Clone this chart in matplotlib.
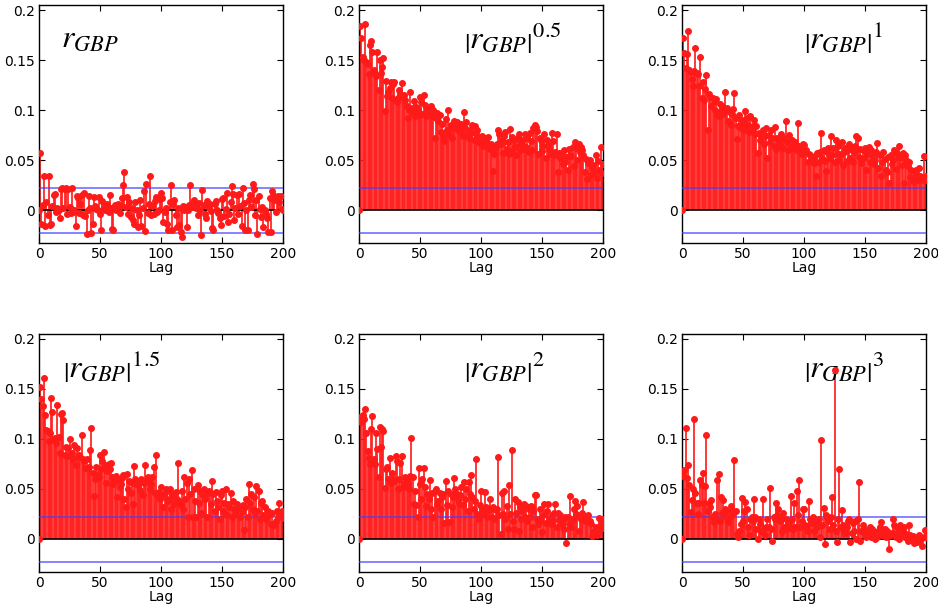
import numpy as np
import matplotlib
matplotlib.use("Agg")
import matplotlib.pyplot as plt

lags = list(range(201))

# ACF values (x1000)
acf_r = [
    0, 57, -14, 5, 34, -16, 8, -5, 34, -15,
    -14, 4, 15, 16, -2, 2, 0, -8, 21, 22,
    2, 21, 22, -4, 21, 3, -3, 22, -2, 0,
    -16, 14, 12, -3, 6, 15, -5, 17, -6, -24,
    0, 14, 2, -23, -14, 13, 4, 1, 0, 13,
    -4, -20, 9, 3, 0, 3, 6, -2, 15, 2,
    -19, -20, 5, 0, 5, 6, -3, 4, 12, 25,
    38, 3, 13, -4, 8, -7, 2, -10, -14, 8,
    0, -17, -5, 10, -16, 2, 19, -21, 26, -3,
    6, 34, -5, 4, -4, 9, 13, -2, 0, 11,
    17, 12, -12, -2, 2, -14, -20, 8, 25, -20,
    6, 10, -5, -17, 2, -15, -22, -27, 4, 0,
    3, -17, 0, 5, 25, 3, 8, 10, 6, 2,
    -5, 7, 0, -25, 20, 5, -4, -8, 9, 2,
    6, -1, -18, -20, 6, 9, 0, -3, -8, -15,
    11, 12, -6, 1, 17, -12, -4, 8, 24, 16,
    -10, 2, 15, -4, 16, 4, -16, 22, 7, -20,
    0, -20, 10, 15, 3, 26, 21, -5, 10, -24,
    14, 1, -7, 3, -17, 0, -4, -8, -22, 12,
    -22, 19, 15, 10, -2, 12, 14, 8, 14, 1,
    0]

acf_p05 = [
    0, 184, 172, 153, 150, 186, 148, 146, 136, 165,
    169, 158, 140, 136, 134, 158, 120, 150, 137, 143,
    152, 99, 129, 114, 118, 122, 128, 112, 126, 128,
    110, 108, 112, 120, 116, 127, 114, 115, 110, 104,
    92, 100, 118, 102, 97, 109, 94, 103, 100, 95,
    113, 108, 96, 115, 105, 94, 101, 99, 96, 104,
    94, 100, 72, 92, 97, 89, 95, 78, 86, 74,
    69, 91, 80, 100, 76, 85, 72, 82, 89, 84,
    88, 80, 84, 79, 86, 74, 98, 82, 88, 76,
    72, 80, 77, 85, 70, 84, 76, 80, 68, 72,
    66, 74, 64, 72, 69, 64, 73, 61, 66, 62,
    39, 56, 63, 66, 80, 76, 66, 70, 57, 74,
    78, 61, 68, 56, 81, 73, 60, 70, 64, 55,
    72, 76, 60, 66, 70, 61, 76, 63, 72, 58,
    77, 69, 60, 82, 85, 83, 79, 56, 72, 70,
    59, 64, 76, 52, 70, 65, 61, 56, 77, 69,
    55, 58, 76, 38, 57, 52, 57, 46, 60, 48,
    53, 40, 61, 55, 54, 63, 44, 68, 62, 50,
    66, 58, 63, 60, 55, 38, 51, 31, 47, 50,
    35, 42, 45, 38, 55, 32, 49, 40, 63, 37,
    46]

acf_p1 = [
    0, 172, 157, 142, 156, 179, 140, 138, 131, 124,
    139, 162, 137, 136, 124, 153, 112, 128, 110, 121,
    135, 80, 116, 113, 104, 112, 108, 100, 111, 95,
    94, 106, 99, 104, 96, 118, 100, 102, 89, 98,
    85, 96, 101, 117, 92, 71, 84, 95, 82, 90,
    87, 80, 99, 92, 85, 78, 94, 80, 84, 90,
    76, 84, 57, 77, 70, 72, 80, 66, 74, 82,
    52, 75, 68, 80, 72, 64, 83, 61, 72, 70,
    66, 76, 73, 62, 71, 89, 68, 60, 75, 64,
    70, 62, 66, 68, 60, 87, 64, 60, 56, 66,
    65, 58, 60, 48, 56, 55, 50, 52, 47, 54,
    34, 57, 48, 58, 77, 52, 60, 49, 39, 58,
    62, 52, 74, 55, 62, 48, 70, 57, 64, 50,
    56, 68, 45, 58, 62, 49, 60, 66, 52, 62,
    48, 58, 64, 74, 72, 53, 61, 47, 60, 52,
    62, 40, 56, 63, 48, 60, 55, 46, 50, 58,
    67, 42, 55, 34, 48, 58, 51, 40, 38, 53,
    27, 55, 46, 50, 60, 41, 57, 54, 64, 52,
    45, 57, 27, 55, 50, 44, 48, 33, 40, 29,
    31, 37, 40, 30, 42, 34, 30, 33, 54, 30,
    34]

acf_p15 = [
    0, 152, 140, 133, 161, 124, 109, 108, 98, 106,
    141, 127, 99, 101, 96, 134, 102, 86, 125, 126,
    119, 84, 92, 83, 91, 100, 83, 86, 80, 94,
    74, 91, 83, 84, 82, 104, 80, 78, 71, 80,
    70, 72, 89, 111, 66, 43, 60, 72, 65, 62,
    84, 70, 78, 87, 74, 56, 68, 75, 70, 76,
    62, 55, 58, 63, 42, 60, 52, 55, 61, 64,
    40, 32, 65, 50, 58, 46, 56, 35, 73, 60,
    55, 54, 58, 49, 60, 44, 56, 74, 58, 62,
    60, 50, 55, 62, 72, 46, 84, 44, 47, 40,
    52, 44, 32, 46, 50, 40, 38, 50, 30, 45,
    42, 35, 47, 40, 76, 38, 34, 48, 30, 62,
    40, 56, 22, 60, 45, 69, 22, 50, 38, 22,
    54, 36, 48, 26, 45, 50, 40, 45, 22, 48,
    47, 35, 58, 45, 28, 47, 38, 32, 20, 44,
    48, 28, 36, 50, 24, 35, 32, 46, 22, 38,
    30, 25, 35, 32, 30, 22, 28, 34, 9, 32,
    40, 22, 55, 36, 45, 30, 42, 26, 53, 28,
    48, 20, 36, 38, 24, 32, 20, 22, 28, 25,
    15, 26, 15, 14, 18, 28, 22, 36, 25, 28,
    21]

acf_p2 = [
    0, 122, 117, 124, 120, 130, 106, 88, 81, 75,
    110, 123, 80, 75, 106, 90, 62, 112, 92, 110,
    108, 51, 70, 72, 60, 81, 56, 66, 60, 58,
    83, 78, 50, 60, 76, 83, 52, 56, 62, 60,
    55, 50, 63, 101, 62, 35, 48, 34, 22, 71,
    55, 40, 60, 71, 52, 33, 45, 40, 59, 30,
    46, 22, 48, 50, 35, 38, 46, 30, 42, 45,
    16, 58, 34, 48, 17, 45, 32, 42, 61, 50,
    45, 40, 36, 44, 52, 34, 57, 40, 50, 28,
    57, 45, 64, 42, 30, 38, 80, 25, 20, 34,
    48, 30, 26, 47, 32, 22, 29, 40, 30, 22,
    32, 20, 29, 30, 82, 24, 5, 46, 25, 48,
    20, 33, 10, 54, 25, 89, 18, 10, 40, 26,
    37, 8, 32, 20, 28, 35, 22, 33, 18, 30,
    22, 33, 12, 28, 44, 44, 20, 15, 30, 18,
    7, 24, 35, 16, 28, 35, 20, 15, 24, 18,
    26, 35, 12, 26, 20, 24, 14, 18, 10, 22,
    -4, 22, 15, 43, 12, 20, 30, 38, 25, 33,
    8, 22, 20, 26, 37, 18, 22, 20, 24, 18,
    15, 3, 8, 5, 12, 4, 8, 21, 15, 20,
    11]

acf_p3 = [
    0, 63, 69, 111, 61, 74, 54, 27, 39, 50,
    120, 46, 36, 25, 36, 59, 54, 66, 36, 53,
    104, 28, 36, 32, 39, 22, 17, 25, 20, 59,
    65, 18, 42, 26, 39, 30, 22, 28, 17, 22,
    33, 25, 28, 79, 28, 5, 2, 8, 15, 41,
    18, 28, 37, 30, 12, 4, 20, 22, 18, 40,
    22, 10, 0, 20, 15, 8, 40, 10, 4, 12,
    20, 12, 51, 10, -2, 22, 20, 36, 24, 30,
    18, 22, 8, 26, 12, 20, 10, 16, 14, 43,
    20, 10, 36, 12, 48, 24, 59, 12, 18, 30,
    30, 14, 12, 8, 38, 20, 16, 22, 8, 18,
    14, 12, 20, 2, 99, 14, 31, -5, 24, 22,
    18, 10, 22, 42, 14, 169, 8, -3, 20, 70,
    12, 29, 14, 8, 6, 12, 18, 20, -3, 6,
    16, 8, 18, 0, 20, 57, -2, 8, 14, 10,
    4, 2, 6, 8, 12, 2, 10, 4, 0, 6,
    2, 8, 12, 17, 4, 6, 10, 2, 8, 3,
    -10, 4, 6, 20, 14, 2, 12, 8, 0, 14,
    4, 10, 12, 2, 5, -2, 14, 4, 0, 3,
    -4, 2, 0, -3, 4, -2, 0, -7, 2, 9,
    2]

titles = [r'$r_{GBP}$', r'$\left|r_{GBP}\right|^{0.5}$', r'$\left|r_{GBP}\right|^{1}$',
          r'$\left|r_{GBP}\right|^{1.5}$', r'$\left|r_{GBP}\right|^{2}$',
          r'$\left|r_{GBP}\right|^{3}$']
series = [acf_r, acf_p05, acf_p1, acf_p15, acf_p2, acf_p3]
conf_band = 0.0225
xticks = [0, 50, 100, 150, 200]
yticks = [0, 0.05, 0.1, 0.15, 0.2]
ytick_labels = ['0', '0.05', '0.1', '0.15', '0.2']

plt.rcParams['mathtext.fontset'] = 'stix'
plt.rcParams['font.family'] = ['DejaVu Sans']

W, H = 938, 608
fig = plt.figure(figsize=(W / 100, H / 100), dpi=100)

lefts = [39, 359, 682]
tops = [5, 334]
aw, ah = 244, 238
title_pos = [(0.09, 0.86), (0.43, 0.86), (0.50, 0.86),
             (0.10, 0.86), (0.43, 0.86), (0.50, 0.86)]

for i, (vals, title) in enumerate(zip(series, titles)):
    r, c = divmod(i, 3)
    ax = fig.add_axes([lefts[c] / W, 1 - (tops[r] + ah) / H, aw / W, ah / H])
    y = np.array(vals) / 1000.0
    ml, sl, bl = ax.stem(lags, y, basefmt='k-')
    plt.setp(ml, color='#ff1a1a', markersize=4.0, zorder=4)
    plt.setp(sl, color='#ff2020', linewidth=1.25, zorder=2)
    plt.setp(bl, color='black', linewidth=1.2, zorder=3)
    bl.set_xdata([0, 200])
    ax.axhline(conf_band, color='#4040ff', alpha=0.75, linewidth=1.2, zorder=3)
    ax.axhline(-conf_band, color='#4040ff', alpha=0.75, linewidth=1.2, zorder=3)
    ax.set_xlim(0, 200)
    ax.set_ylim(-0.033, 0.205)
    ax.set_xticks(xticks)
    ax.set_yticks(yticks)
    ax.set_yticklabels(ytick_labels)
    ax.tick_params(direction='in', length=4, width=0.8, top=True, right=True,
                   labelsize=10, pad=3)
    for s in ax.spines.values():
        s.set_linewidth(1.0)
    ax.set_xlabel('Lag', fontsize=10, labelpad=0)
    tx, ty = title_pos[i]
    ax.text(tx, ty, title, transform=ax.transAxes, fontsize=23, ha='left', va='center')

fig.savefig('out.png', dpi=100)
